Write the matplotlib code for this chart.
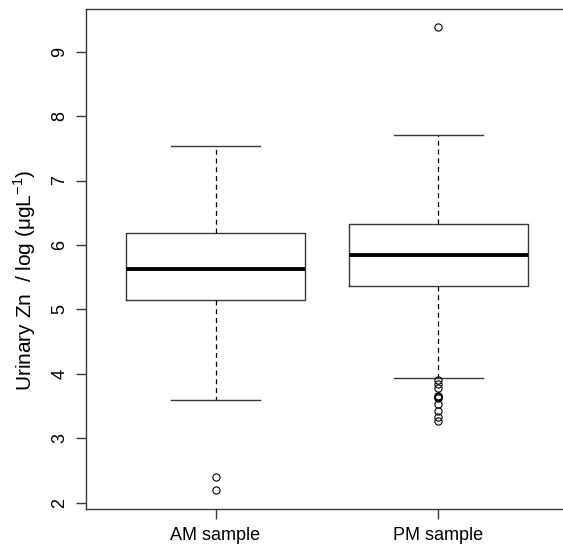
import matplotlib
matplotlib.use("Agg")
import matplotlib.pyplot as plt

plt.rcParams['font.family'] = ['Liberation Sans', 'DejaVu Sans']
plt.rcParams['mathtext.fontset'] = 'custom'
plt.rcParams['mathtext.rm'] = 'Liberation Sans'

categories = ["AM sample", "PM sample"]
whisker_low = [3.60, 3.94]
q1 = [5.14, 5.36]
median = [5.63, 5.84]
q3 = [6.18, 6.33]
whisker_high = [7.53, 7.71]
outliers = [
    [2.40, 2.19],
    [9.38, 3.90, 3.84, 3.78, 3.66, 3.65, 3.64, 3.63, 3.53, 3.42, 3.33, 3.27],
]
yticks = [2, 3, 4, 5, 6, 7, 8, 9]

stats = []
for i, name in enumerate(categories):
    stats.append(dict(label=name, whislo=whisker_low[i], q1=q1[i], med=median[i],
                      q3=q3[i], whishi=whisker_high[i], fliers=outliers[i]))

fig = plt.figure(figsize=(5.63, 5.46), dpi=100)
ax = fig.add_axes([0.1531, 0.0672, 0.87, 0.9158])

lc = '#3a3a3a'
ax.bxp(stats, positions=[1, 2], widths=0.8, showfliers=True,
       boxprops=dict(color=lc, linewidth=1.0),
       whiskerprops=dict(color='black', linewidth=0.9, linestyle=(0, (4, 3))),
       capprops=dict(color=lc, linewidth=1.0),
       medianprops=dict(color='black', linewidth=2.8),
       flierprops=dict(marker='o', markerfacecolor='none', markeredgecolor='black',
                       markersize=5.2, markeredgewidth=0.8))

ax.set_xlim(0.42, 2.617)
ax.set_ylim(1.898, 9.658)
ax.set_xticks([1, 2])
ax.set_xticklabels(categories, fontsize=13)
ax.set_yticks(yticks)
ax.set_yticklabels([str(t) for t in yticks], fontsize=13, rotation=90, va='center')
ax.tick_params(axis='both', direction='out', length=7, width=1.0, color=lc)
ax.tick_params(axis='y', pad=6)
ax.tick_params(axis='x', pad=6)
for s in ax.spines.values():
    s.set_color(lc)
    s.set_linewidth(1.0)
ax.set_ylabel('Urinary Zn  / log (μgL$^{-1}$)', fontsize=15)
ax.yaxis.set_label_coords(-0.098, 0.459)

fig.savefig('out.png', dpi=100)
